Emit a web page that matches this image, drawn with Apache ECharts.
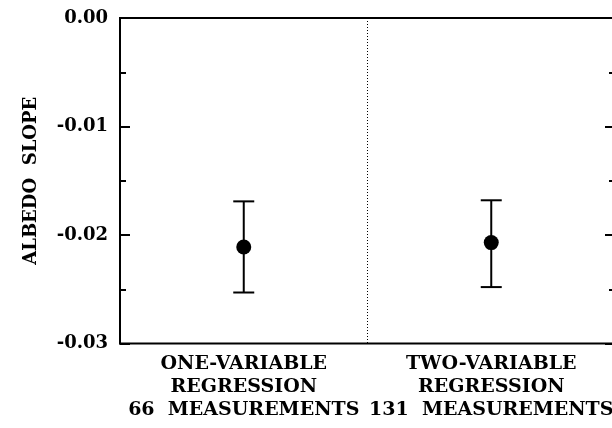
<!DOCTYPE html>
<html>
<head>
<meta charset="utf-8">
<script src="https://cdn.jsdelivr.net/npm/echarts@6/dist/echarts.min.js"></script>
<style>
  html, body { margin: 0; padding: 0; background: #fff; }
  #main { width: 612px; height: 428px; }
</style>
</head>
<body>
<div id="main"></div>
<script>
// regression categories and albedo slope estimates
const categories = [
    'ONE-VARIABLE\nREGRESSION\n66  MEASUREMENTS',
    'TWO-VARIABLE\nREGRESSION\n131  MEASUREMENTS'
];
const slopes = [-0.0211, -0.0207];
const upperBars = [-0.0169, -0.0168];
const lowerBars = [-0.0253, -0.0248];
const yTicks = [-0.03, -0.02, -0.01, 0.00];

const font = 'DejaVu Serif';

let chart = echarts.init(document.getElementById('main'));

// error bar data: [category index, low, high]
let errData = categories.map((c, i) => [i, lowerBars[i], upperBars[i]]);

let yAxisBase = {
    type: 'value',
    min: yTicks[0],
    max: yTicks[yTicks.length - 1],
    interval: 0.01,
    axisLine: { show: true, lineStyle: { color: '#000', width: 2 } },
    axisTick: { show: true, inside: true, length: 10, lineStyle: { color: '#000', width: 2 } },
    minorTick: { show: true, splitNumber: 2, length: 6, lineStyle: { color: '#000', width: 2 } },
    splitLine: { show: false }
};

let option = {
    animation: false,
    grid: {
        left: 120, top: 18, width: 495, height: 325.5,
        outerBoundsMode: 'none',
        show: true, borderColor: '#000', borderWidth: 2
    },
    xAxis: {
        type: 'category',
        data: categories,
        boundaryGap: true,
        axisLine: { show: true, lineStyle: { color: '#000', width: 2 } },
        axisTick: { show: false },
        splitLine: { show: true, lineStyle: { color: '#000', width: 1, type: [1, 2] } },
        axisLabel: {
            interval: 0,
            margin: 9,
            color: '#000',
            fontFamily: font,
            fontWeight: 'bold',
            fontSize: 19,
            lineHeight: 23
        }
    },
    yAxis: [
        Object.assign({}, yAxisBase, {
            position: 'left',
            name: 'ALBEDO  SLOPE',
            nameLocation: 'middle',
            nameGap: 80,
            nameTextStyle: { color: '#000', fontFamily: font, fontWeight: 'bold', fontSize: 18 },
            axisLabel: {
                margin: 12,
                color: '#000',
                fontFamily: font,
                fontWeight: 'bold',
                fontSize: 18,
                formatter: v => v.toFixed(2)
            }
        }),
        Object.assign({}, yAxisBase, {
            position: 'right',
            axisLabel: { show: false }
        })
    ],
    series: [
        {
            type: 'custom',
            data: errData,
            renderItem: function (params, api) {
                let x = api.value(0);
                let lo = api.coord([x, api.value(1)]);
                let hi = api.coord([x, api.value(2)]);
                let half = 10.5;
                let style = { stroke: '#000', lineWidth: 2 };
                return {
                    type: 'group',
                    children: [
                        { type: 'line', shape: { x1: hi[0], y1: hi[1], x2: lo[0], y2: lo[1] }, style: style },
                        { type: 'line', shape: { x1: hi[0] - half, y1: hi[1], x2: hi[0] + half, y2: hi[1] }, style: style },
                        { type: 'line', shape: { x1: lo[0] - half, y1: lo[1], x2: lo[0] + half, y2: lo[1] }, style: style }
                    ]
                };
            },
            z: 2
        },
        {
            type: 'scatter',
            data: slopes,
            symbol: 'circle',
            symbolSize: 15,
            itemStyle: { color: '#000', opacity: 1 },
            z: 3
        }
    ]
};

chart.setOption(option);
</script>
</body>
</html>
